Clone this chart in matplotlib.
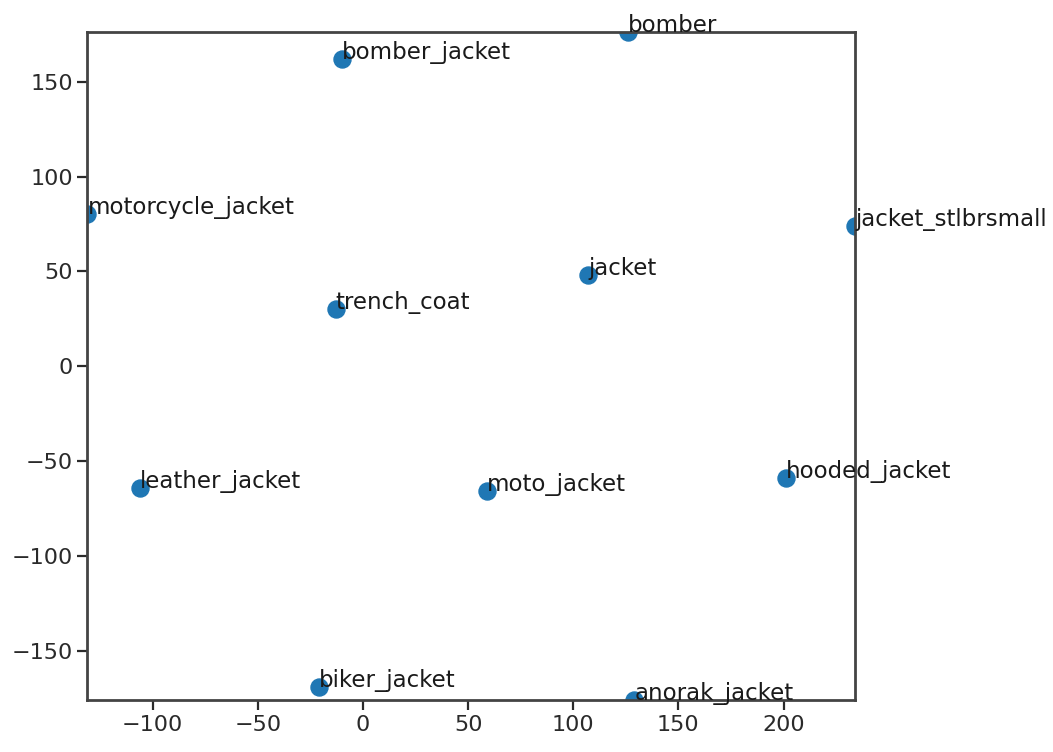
import matplotlib
matplotlib.use("Agg")
import matplotlib.pyplot as plt

# 2-D embedding coordinates of each garment term
labels = ["bomber_jacket", "bomber", "motorcycle_jacket", "jacket_stlbrsmall",
          "jacket", "trench_coat", "leather_jacket", "moto_jacket",
          "hooded_jacket", "biker_jacket", "anorak_jacket"]
xs = [-10, 126, -131, 234, 107, -13, -106, 59, 201, -21, 129]
ys = [162, 176, 80, 74, 48, 30, -64, -66, -59, -169, -176]

x_ticks = [-100, -50, 0, 50, 100, 150, 200]
y_ticks = [-150, -100, -50, 0, 50, 100, 150]

fig = plt.figure(figsize=(10.53, 7.52), dpi=100)
ax = fig.add_axes([0.083, 0.069, 0.729, 0.888])

ax.scatter(xs, ys, s=150, color="#1f77b4")
for lab, x, y in zip(labels, xs, ys):
    ax.annotate(lab, (x, y), fontsize=16.5, color="#1a1a1a")

ax.set_xlim(min(xs), max(xs))
ax.set_ylim(min(ys), max(ys))
ax.set_xticks(x_ticks)
ax.set_yticks(y_ticks)
ax.tick_params(labelsize=16, length=7, width=1.6, colors="#2a2a2a")
for sp in ax.spines.values():
    sp.set_linewidth(2)
    sp.set_color("#444444")

fig.savefig("out.png", dpi=100)
